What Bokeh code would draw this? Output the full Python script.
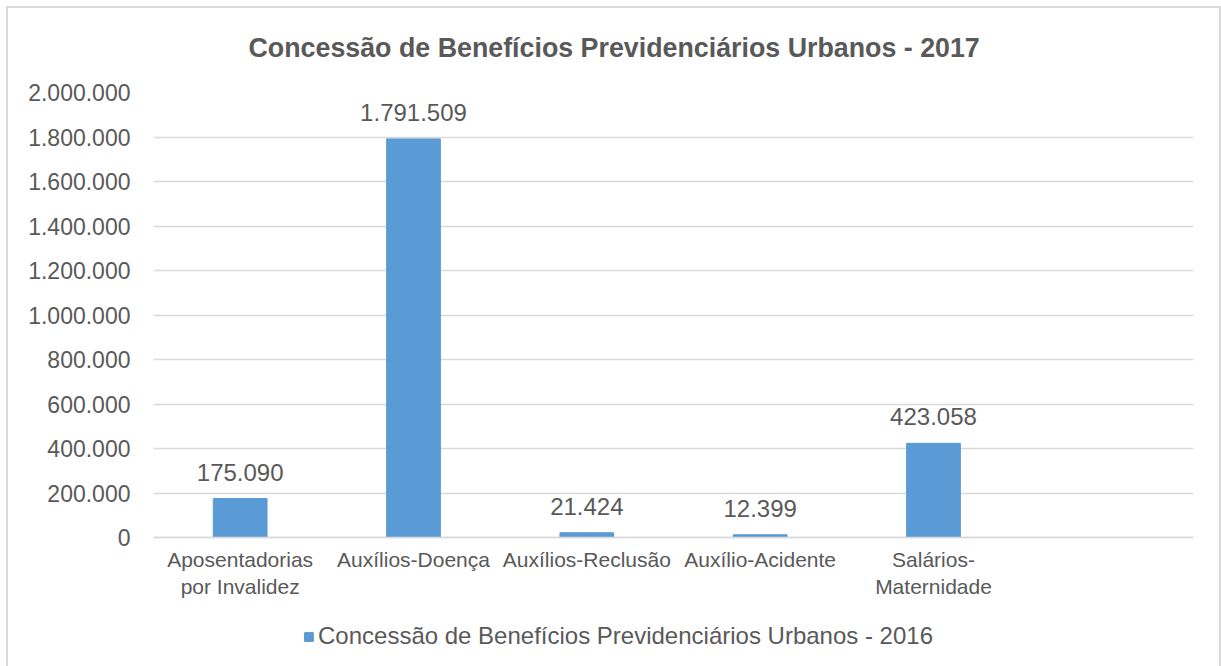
from bokeh.plotting import figure
from bokeh.models import ColumnDataSource, FactorRange, LabelSet, Legend, LegendItem, Title, Range1d
from bokeh.core.properties import value
from bokeh.embed import file_html
from bokeh.resources import INLINE

categories = ["Aposentadorias\npor Invalidez", "Auxílios-Doença", "Auxílios-Reclusão",
              "Auxílio-Acidente", "Salários-\nMaternidade"]
values = [175090, 1791509, 21424, 12399, 423058]
empty_slot = [" "]
y_ticks = list(range(0, 2000001, 200000))
title_text = "Concessão de Benefícios Previdenciários Urbanos - 2017"
series_name = "Concessão de Benefícios Previdenciários Urbanos - 2016"

def fmt(v):
    return f"{v:,}".replace(",", ".")

FONT = "Liberation Sans"
TXT = "#595959"
BAR = "#5B9BD5"
GRID = "#D9D9D9"

W, H = 1221, 666
# frame spans 0..2.000.000 over 445 px; extra room below zero holds the category labels and legend
Y_MAX = 2000000
Y_MIN = -Y_MAX * 129 / 445

src = ColumnDataSource(dict(cat=categories, val=values, lab=[fmt(v) for v in values]))

p = figure(x_range=FactorRange(*(categories + empty_slot), range_padding=0),
           y_range=Range1d(Y_MIN, Y_MAX), width=W, height=H, title=None,
           output_backend="svg", toolbar_location=None,
           min_border_left=153, min_border_right=28, min_border_top=92, min_border_bottom=0)
p.outline_line_color = None
p.background_fill_color = "white"
p.border_fill_color = None
p.styles = {"box-shadow": "inset 6px 6px 0 0 white, inset 8px 8px 0 0 #D9D9D9, inset -2px 0 0 0 #D9D9D9"}

r = p.vbar(x="cat", top="val", width=0.31, source=src, fill_color=BAR, line_color=BAR)

p.xgrid.grid_line_color = None
p.ygrid.grid_line_color = GRID
p.ygrid.grid_line_width = 1.5
p.ygrid.ticker = y_ticks

p.yaxis.ticker = y_ticks
p.yaxis.major_label_overrides = {v: fmt(v) for v in y_ticks}
p.yaxis.axis_line_color = None
p.yaxis.major_tick_line_color = None
p.yaxis.minor_tick_line_color = None
p.yaxis.major_tick_out = 0
p.yaxis.major_tick_in = 0
p.yaxis.major_label_standoff = 23
p.yaxis.major_label_text_font = FONT
p.yaxis.major_label_text_font_size = "23px"
p.yaxis.major_label_text_color = TXT

p.xaxis.fixed_location = 0
p.xaxis.axis_line_color = GRID
p.xaxis.axis_line_width = 1.5
p.xaxis.major_tick_line_color = None
p.xaxis.minor_tick_line_color = None
p.xaxis.major_tick_out = 0
p.xaxis.major_tick_in = 0
p.xaxis.major_label_standoff = 10
p.xaxis.major_label_text_font = FONT
p.xaxis.major_label_text_font_size = "21px"
p.xaxis.major_label_text_color = TXT
p.xaxis.major_label_text_line_height = 1.2

labels = LabelSet(x="cat", y="val", text="lab", source=src, text_align="center",
                  text_baseline="alphabetic", y_offset=18, text_font=value(FONT),
                  text_font_size=value("24px"), text_color=value(TXT))
p.add_layout(labels)

title = Title(text=title_text, align="left", offset=95, standoff=60,
              text_font=FONT, text_font_size="26.8px", text_font_style="bold",
              text_color=TXT)
p.add_layout(title, "above")

legend = Legend(items=[LegendItem(label=series_name, renderers=[r])],
                location=(150, 16), orientation="horizontal",
                glyph_width=11, glyph_height=11, label_standoff=4,
                padding=0, margin=0, border_line_color=None, background_fill_alpha=0,
                label_text_font=FONT, label_text_font_size="24px", label_text_color=TXT)
p.add_layout(legend, "center")

open("out.html", "w").write(file_html(p, INLINE))
